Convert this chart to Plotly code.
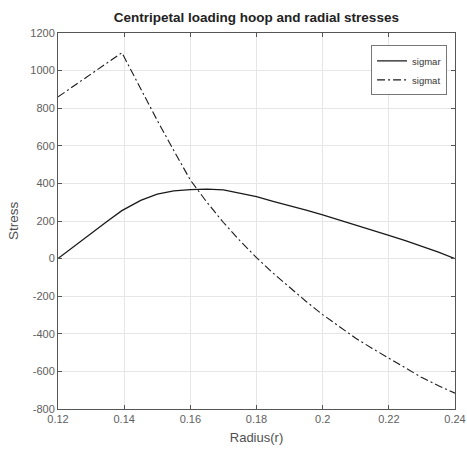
import plotly.graph_objects as go

radius = [0.12, 0.125, 0.13, 0.135, 0.1393, 0.14, 0.145, 0.15, 0.155, 0.16, 0.165, 0.17,
          0.175, 0.18, 0.185, 0.19, 0.195, 0.2, 0.205, 0.21, 0.215, 0.22, 0.225, 0.23,
          0.235, 0.24]
sigmar = [0, 68, 135, 200, 255, 262, 310, 343, 360, 367, 370, 366,
          350, 330, 305, 283, 258, 232, 206, 179, 152, 124, 96, 66,
          34, 0]
sigmat = [860, 922, 984, 1044, 1095, 1072, 900, 735, 575, 418, 300, 192,
          95, 5, -77, -155, -228, -298, -362, -424, -478, -530, -583, -633,
          -676, -716]

x_ticks = [0.12, 0.14, 0.16, 0.18, 0.2, 0.22, 0.24]
x_labels = ["0.12", "0.14", "0.16", "0.18", "0.2", "0.22", "0.24"]
y_ticks = [-800, -600, -400, -200, 0, 200, 400, 600, 800, 1000, 1200]
y_labels = ["-800", "-600", "-400", "-200", "0", "200", "400", "600", "800", "1000", "1200"]

FONT = "Liberation Sans, Arial"

fig = go.Figure()
fig.add_trace(go.Scatter(x=radius, y=sigmar, mode="lines", name="sigmar",
                         line=dict(color="#1a1a1a", width=1.3, dash="solid")))
fig.add_trace(go.Scatter(x=radius, y=sigmat, mode="lines", name="sigmat",
                         line=dict(color="#1a1a1a", width=1.1, dash="8px,3px,2px,3px")))

axis_common = dict(
    showgrid=True, gridcolor="#e6e6e6", gridwidth=1,
    showline=True, linecolor="#555555", linewidth=1, mirror="ticks",
    ticks="inside", ticklen=4, tickcolor="#555555",
    tickfont=dict(family=FONT, size=11, color="#606060"),
    zeroline=False, automargin=False,
)

fig.update_layout(
    width=467, height=452, autosize=False,
    margin=dict(l=58, r=12, t=33, b=43),
    paper_bgcolor="white", plot_bgcolor="white",
    title=dict(text="<b>Centripetal loading hoop and radial stresses</b>",
               x=0.549, xanchor="center", y=0.962, yanchor="middle",
               font=dict(family=FONT, size=13.5, color="#222222")),
    xaxis=dict(range=[0.12, 0.24], tickvals=x_ticks, ticktext=x_labels,
               title=dict(text="Radius(r)", standoff=8,
                          font=dict(family=FONT, size=13, color="#505050")),
               **axis_common),
    yaxis=dict(range=[-800, 1200], tickvals=y_ticks, ticktext=y_labels,
               title=dict(text="Stress", standoff=8,
                          font=dict(family=FONT, size=13.5, color="#505050")),
               **axis_common),
    legend=dict(x=0.98, y=0.967, xanchor="right", yanchor="top",
                bgcolor="white", bordercolor="#777777", borderwidth=1,
                font=dict(family=FONT, size=9.5, color="#333333"),
                tracegroupgap=0, itemwidth=30),
    showlegend=True,
)

fig.write_html("out.html", config={"responsive": False})
